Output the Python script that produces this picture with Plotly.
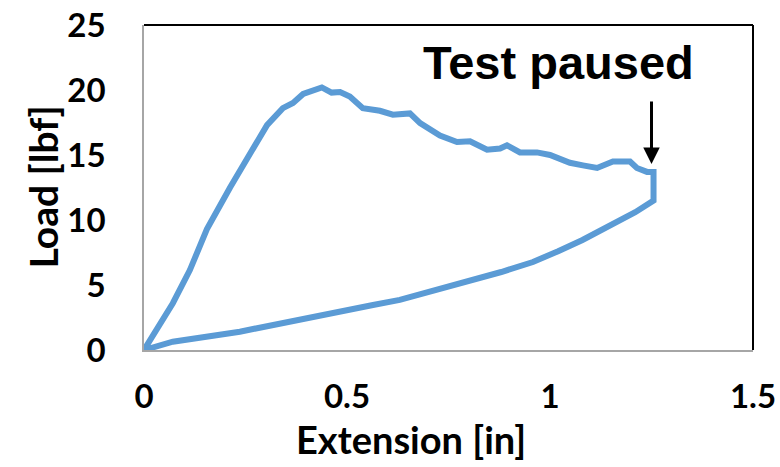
import plotly.graph_objects as go

# Load-extension record: loading branch, pause drop, then unloading branch
extension_in = [
    0.000, 0.015, 0.039, 0.071, 0.113, 0.155, 0.212, 0.261, 0.303, 0.342,
    0.367, 0.392, 0.415, 0.438, 0.462, 0.483, 0.507, 0.539, 0.581, 0.613,
    0.655, 0.680, 0.729, 0.771, 0.803, 0.845, 0.877, 0.894, 0.926, 0.968,
    1.000, 1.049, 1.081, 1.116, 1.155, 1.197, 1.214, 1.239, 1.255,
    1.255, 1.210, 1.165, 1.120, 1.080, 1.020, 0.958, 0.880, 0.795, 0.710,
    0.630, 0.564, 0.401, 0.236, 0.071, 0.000,
]
load_lbf = [
    0.0, 0.8, 2.0, 3.6, 6.15, 9.3, 12.5, 15.2, 17.3, 18.6,
    19.0, 19.7, 19.9, 20.2, 19.8, 19.85, 19.5, 18.6, 18.4, 18.1,
    18.2, 17.45, 16.5, 16.0, 16.05, 15.4, 15.5, 15.75, 15.2, 15.2,
    15.0, 14.4, 14.2, 14.0, 14.5, 14.5, 14.0, 13.7, 13.7,
    11.5, 10.6, 9.85, 9.1, 8.46, 7.6, 6.77, 6.0, 5.23, 4.48,
    3.85, 3.46, 2.46, 1.41, 0.64, 0.0,
]

x_ticks = [0, 0.5, 1, 1.5]
x_tick_labels = ["0", "0.5", "1", "1.5"]
y_ticks = [0, 5, 10, 15, 20, 25]
y_tick_labels = ["0", "5", "10", "15", "20", "25"]

pause_point = (1.25, 14.3)

label_font = "Lato"
fig = go.Figure()
fig.add_trace(go.Scatter(
    x=extension_in, y=load_lbf, mode="lines",
    line=dict(color="#5B9BD5", width=6),
    showlegend=False, hoverinfo="skip",
))

fig.update_layout(
    width=780, height=467,
    margin=dict(l=144, r=27, t=25, b=117),
    paper_bgcolor="white", plot_bgcolor="white",
    xaxis=dict(
        range=[0, 1.5], tickvals=x_ticks, ticktext=x_tick_labels,
        showgrid=False, zeroline=False, showline=True, automargin=False,
        linecolor="#A6A6A6", linewidth=1.5, ticks="",
        ticklabelstandoff=17,
        tickfont=dict(family=label_font, size=33, color="black", weight="bold"),
    ),
    yaxis=dict(
        range=[0, 25], tickvals=y_ticks, ticktext=y_tick_labels,
        showgrid=False, zeroline=False, showline=True, automargin=False,
        linecolor="#A6A6A6", linewidth=1.5, ticks="",
        ticklabelstandoff=30,
        tickfont=dict(family=label_font, size=33, color="black", weight="bold"),
    ),
    shapes=[
        dict(type="line", xref="paper", yref="paper", x0=0, x1=1, y0=1, y1=1,
             line=dict(color="black", width=2)),
        dict(type="line", xref="paper", yref="paper", x0=1, x1=1, y0=0, y1=1,
             line=dict(color="black", width=2)),
    ],
    annotations=[
        dict(text="Extension [in]", xref="paper", yref="paper",
             x=(411 - 144) / 609, y=-(439 - 350) / 325, showarrow=False,
             xanchor="center", yanchor="middle",
             font=dict(family=label_font, size=38, color="black", weight="bold")),
        dict(text="Load [lbf]", xref="paper", yref="paper",
             x=-(144 - 42) / 609, y=0.5, showarrow=False, textangle=-90,
             xanchor="center", yanchor="middle",
             font=dict(family=label_font, size=39, color="black", weight="bold")),
        dict(text="Test paused", xref="paper", yref="paper",
             x=(558 - 144) / 609, y=1 - (63 - 25) / 325, showarrow=False,
             xanchor="center", yanchor="middle",
             font=dict(family="Liberation Sans", size=47, color="black", weight="bold")),
        dict(text="", x=pause_point[0], y=pause_point[1], xref="x", yref="y",
             showarrow=True, ax=0, ay=-64, arrowhead=2, arrowsize=1.1,
             arrowwidth=3, arrowcolor="black", standoff=0),
    ],
)

fig.write_html("out.html")
